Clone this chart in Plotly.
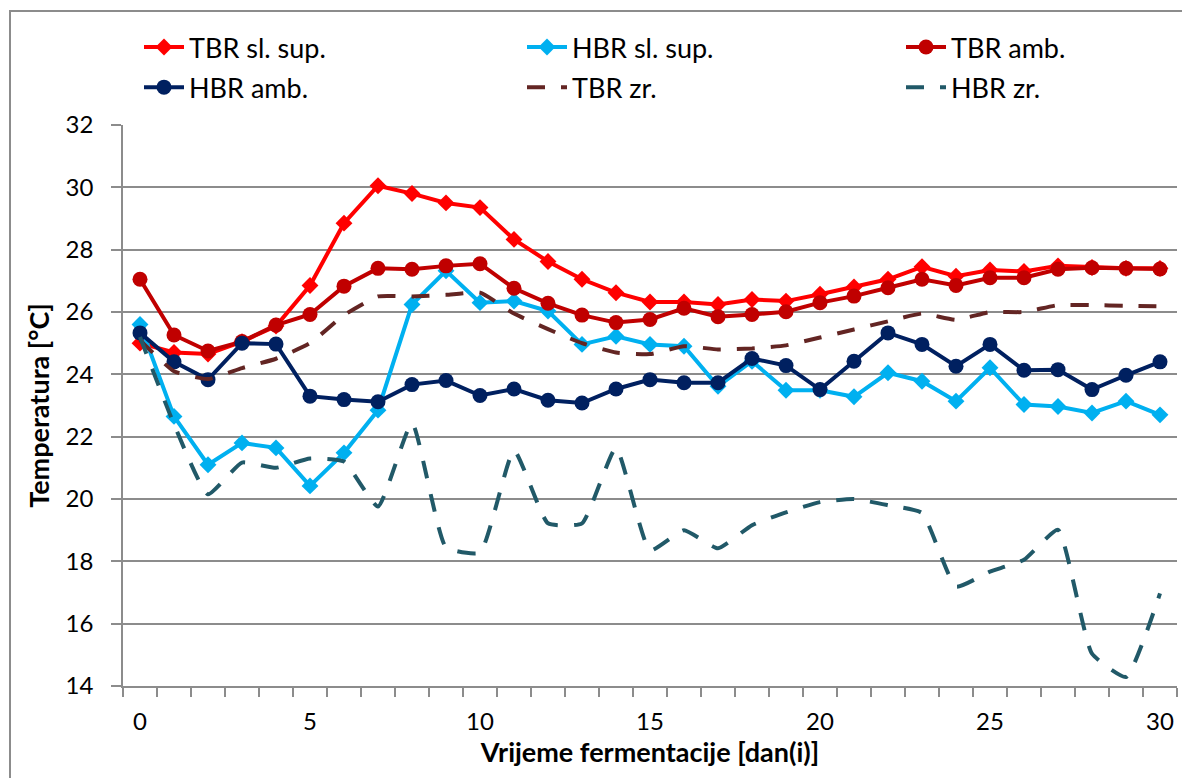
import plotly.graph_objects as go

days = list(range(31))

tbr_sl_sup = [25.0, 24.7, 24.65, 25.05, 25.55, 26.85, 28.85, 30.05, 29.8, 29.5, 29.35,
              28.33, 27.62, 27.05, 26.62, 26.32, 26.32, 26.24, 26.4, 26.35, 26.57,
              26.8, 27.05, 27.45, 27.15, 27.35, 27.3, 27.48, 27.43, 27.4, 27.4]
hbr_sl_sup = [25.6, 22.65, 21.1, 21.8, 21.64, 20.42, 21.48, 22.85, 26.24, 27.32, 26.3,
              26.35, 26.03, 24.96, 25.22, 24.96, 24.9, 23.62, 24.42, 23.49, 23.49,
              23.28, 24.05, 23.78, 23.14, 24.21, 23.03, 22.97, 22.76, 23.14, 22.7]
tbr_amb = [27.05, 25.26, 24.75, 25.05, 25.58, 25.92, 26.83, 27.4, 27.37, 27.48, 27.55,
           26.76, 26.28, 25.9, 25.66, 25.76, 26.12, 25.85, 25.92, 26.01, 26.3,
           26.51, 26.78, 27.05, 26.85, 27.1, 27.1, 27.37, 27.42, 27.4, 27.38]
hbr_amb = [25.33, 24.4, 23.83, 25.0, 24.97, 23.3, 23.19, 23.12, 23.67, 23.8, 23.32,
           23.53, 23.17, 23.08, 23.53, 23.83, 23.73, 23.73, 24.51, 24.28, 23.51,
           24.42, 25.33, 24.96, 24.26, 24.96, 24.13, 24.15, 23.51, 23.97, 24.4]
tbr_zr = [25.1, 24.1, 23.85, 24.2, 24.5, 25.0, 25.9, 26.5, 26.5, 26.55, 26.62,
          25.95, 25.45, 25.0, 24.7, 24.65, 24.9, 24.8, 24.83, 24.93, 25.18,
          25.44, 25.7, 25.95, 25.75, 26.0, 26.0, 26.22, 26.22, 26.2, 26.18]
hbr_zr = [25.2, 22.4, 20.15, 21.17, 21.0, 21.3, 21.2, 19.76, 22.44, 18.45, 18.28,
          21.56, 19.22, 19.22, 21.64, 18.35, 19.0, 18.42, 19.16, 19.57, 19.9,
          20.0, 19.8, 19.55, 17.19, 17.67, 18.05, 19.01, 15.04, 14.29, 16.97]

series_names = ["TBR sl. sup.", "HBR sl. sup.", "TBR amb.", "HBR amb.", "TBR zr.", "HBR zr."]
x_tick_vals = [0, 5, 10, 15, 20, 25, 30]
y_tick_vals = [14, 16, 18, 20, 22, 24, 26, 28, 30, 32]

FONT = "Lato"
GRID = "#8c8c8c"

fig = go.Figure()
fig.add_trace(go.Scatter(x=days, y=tbr_sl_sup, name=series_names[0], mode="lines+markers",
                         legend="legend", legendgroup="a",
                         line=dict(color="#FF0000", width=4),
                         marker=dict(symbol="diamond", size=13, color="#FF0000")))
fig.add_trace(go.Scatter(x=days, y=hbr_sl_sup, name=series_names[1], mode="lines+markers",
                         legend="legend2", legendgroup="b",
                         line=dict(color="#00B0F0", width=4),
                         marker=dict(symbol="diamond", size=13, color="#00B0F0")))
fig.add_trace(go.Scatter(x=days, y=tbr_amb, name=series_names[2], mode="lines+markers",
                         legend="legend3", legendgroup="c",
                         line=dict(color="#C00000", width=4),
                         marker=dict(symbol="circle", size=15, color="#C00000")))
fig.add_trace(go.Scatter(x=days, y=hbr_amb, name=series_names[3], mode="lines+markers",
                         legend="legend", legendgroup="d",
                         line=dict(color="#002060", width=4),
                         marker=dict(symbol="circle", size=15, color="#002060")))
fig.add_trace(go.Scatter(x=days, y=tbr_zr, name=series_names[4], mode="lines",
                         legend="legend2", legendgroup="e",
                         line=dict(color="#632523", width=4, dash="18px,16px", shape="spline", smoothing=0.45)))
fig.add_trace(go.Scatter(x=days, y=hbr_zr, name=series_names[5], mode="lines",
                         legend="legend3", legendgroup="f",
                         line=dict(color="#215968", width=4, dash="18px,16px", shape="spline", smoothing=0.45)))

L, R, T, B = 123, 5, 125, 92
W, H = 1182, 778
pw = W - L - R
ph = H - T - B


def px_x(px):
    return (px - L) / pw


def px_y(py):
    return (H - B - py) / ph


leg_common = dict(orientation="v", yanchor="top", xanchor="left",
                  font=dict(size=27, family=FONT), bgcolor="rgba(0,0,0,0)",
                  tracegroupgap=2, itemwidth=40, traceorder="grouped")

fig.update_layout(
    width=W, height=H,
    margin=dict(l=L, r=R, t=T, b=B, autoexpand=False),
    paper_bgcolor="white", plot_bgcolor="white",
    font=dict(family=FONT, size=24, color="black"),
    showlegend=True,
    legend=dict(x=px_x(139), y=px_y(23), **leg_common),
    legend2=dict(x=px_x(522), y=px_y(23), **leg_common),
    legend3=dict(x=px_x(901), y=px_y(23), **leg_common),
    xaxis=dict(range=[-0.5, 30.5], tickmode="array", tickvals=x_tick_vals,
               ticks="", showgrid=False, zeroline=False,
               showline=True, linecolor=GRID, linewidth=1.5,
               tickfont=dict(size=24, family=FONT), ticklabelstandoff=13,
               minor=dict(tickmode="linear", tick0=0.5, dtick=1, ticks="outside", ticklen=9,
                          tickcolor=GRID, tickwidth=1.5, showgrid=False),
               title=dict(text="<b>Vrijeme fermentacije [dan(i)]</b>", font=dict(size=27, family=FONT), standoff=0),
               automargin=False),
    yaxis=dict(range=[14, 32], tickmode="array", tickvals=y_tick_vals,
               ticks="outside", ticklen=10, tickcolor=GRID, tickwidth=1.5,
               showgrid=True, gridcolor=GRID, gridwidth=1.5, zeroline=False,
               showline=True, linecolor=GRID, linewidth=1.5,
               tickfont=dict(size=24, family=FONT), ticklabelstandoff=13,
               title=dict(text="<b>Temperatura [°C]</b>", font=dict(size=27, family=FONT), standoff=8),
               automargin=False),
    shapes=[dict(type="rect", xref="paper", yref="paper",
                 x0=px_x(10), x1=px_x(W + 20),
                 y0=px_y(H + 20), y1=px_y(11),
                 line=dict(color="#8c8c8c", width=2), fillcolor="rgba(0,0,0,0)", layer="below")],
)

fig.write_html("out.html", config={"displayModeBar": False},
               post_script="document.body.style.margin='0px';")
